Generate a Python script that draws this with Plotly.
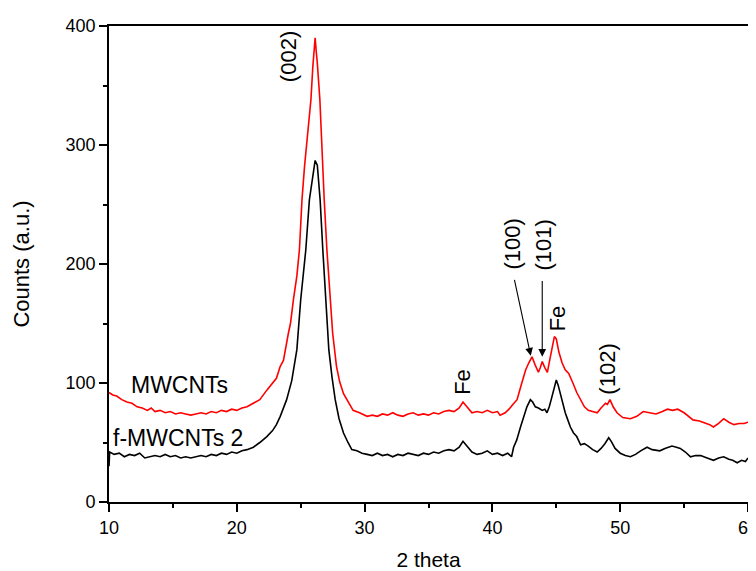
import plotly.graph_objects as go

# MWCNTs (red)
x_mw = [10.0, 10.3, 10.6, 11.0, 11.4, 11.8, 12.2, 12.6, 13.0, 13.3, 13.6, 14.0, 14.4, 14.8, 15.2, 15.6,
        16.0, 16.4, 16.8, 17.2, 17.6, 18.0, 18.4, 18.8, 19.2, 19.6, 20.0, 20.4, 20.8, 21.3, 21.8, 22.35,
        22.8, 23.1, 23.4, 23.65, 24.04, 24.2, 24.43, 24.7, 24.9, 25.1, 25.3, 25.5, 25.8, 25.95, 26.13,
        26.22, 26.3, 26.5, 26.65, 26.84, 27.05, 27.2, 27.36, 27.5, 27.8, 28.05, 28.35, 28.7, 29.1, 29.6,
        30.2, 30.6, 31.0, 31.4, 31.8, 32.2, 32.6, 33.0, 33.4, 33.8, 34.2, 34.6, 35.0, 35.4, 35.8, 36.2,
        36.6, 37.0, 37.4, 37.7, 38.0, 38.4, 38.8, 39.2, 39.6, 40.0, 40.4, 40.6, 41.0, 41.3, 41.6, 41.93,
        42.3, 42.6, 42.85, 43.1, 43.35, 43.6, 43.75, 43.9, 44.1, 44.3, 44.5, 44.7, 44.85, 45.0, 45.2,
        45.45, 45.7, 45.97, 46.15, 46.3, 46.6, 46.9, 47.2, 47.5, 47.85, 48.2, 48.5, 48.85, 49.0, 49.2,
        49.45, 49.75, 50.2, 50.8, 51.3, 51.8, 52.3, 52.8, 53.3, 53.7, 54.1, 54.5, 55.0, 55.4, 55.7, 56.2,
        56.7, 57.0, 57.3, 57.7, 58.1, 58.5, 58.9, 59.3, 59.7, 60.0]
y_mw = [92, 90, 89, 86, 84, 83, 80, 79, 77, 79, 76, 77, 75, 76, 74, 75,
        74, 73, 74, 75, 74, 76, 75, 77, 76, 78, 77, 79, 80, 83, 86, 94,
        100, 104, 114, 119, 142, 150, 170, 190, 212, 254, 282, 304, 338, 366, 390,
        378, 369, 338, 296, 254, 212, 190, 170, 142, 114, 101, 91, 84, 77, 75,
        72, 73, 72, 74, 73, 75, 73, 72, 74, 75, 73, 74, 73, 75, 74, 76,
        77, 76, 79, 84, 80, 75, 76, 75, 77, 75, 76, 73, 75, 78, 82, 86,
        100, 111, 117, 122, 115, 109, 113, 118, 113, 109, 120, 132, 139, 137, 126,
        117, 111, 108, 104, 100, 92, 86, 80, 77, 76, 75, 79, 83, 82, 86,
        80, 75, 71, 70, 72, 76, 75, 74, 76, 78, 77, 78, 75, 72, 69, 68,
        66, 65, 63, 66, 70, 67, 65, 66, 66, 67]

# f-MWCNTs 2 (black)
x_f = [10.0, 10.05, 10.4, 10.8, 11.2, 11.6, 12.0, 12.4, 12.8, 13.2, 13.6, 14.0, 14.4, 14.8, 15.2, 15.6,
       16.0, 16.4, 16.8, 17.2, 17.6, 18.0, 18.4, 18.8, 19.2, 19.6, 20.0, 20.4, 20.8, 21.3, 21.8, 22.35,
       22.8, 23.1, 23.4, 23.9, 24.3, 24.7, 25.0, 25.4, 25.68, 25.9, 26.0, 26.13, 26.3, 26.52, 26.73,
       26.99, 27.2, 27.45, 27.7, 28.0, 28.35, 28.7, 29.0, 29.4, 29.8, 30.2, 30.6, 31.0, 31.4, 31.8,
       32.2, 32.6, 33.0, 33.4, 33.8, 34.2, 34.6, 35.0, 35.4, 35.8, 36.2, 36.6, 37.0, 37.4, 37.7, 38.0,
       38.4, 38.8, 39.2, 39.6, 40.0, 40.4, 40.8, 41.2, 41.5, 41.66, 41.9, 42.2, 42.45, 42.7, 42.97,
       43.15, 43.36, 43.6, 43.9, 44.1, 44.27, 44.45, 44.6, 44.8, 45.0, 45.15, 45.3, 45.5, 45.7, 45.9,
       46.1, 46.35, 46.6, 46.9, 47.2, 47.5, 47.85, 48.2, 48.5, 48.8, 49.1, 49.3, 49.6, 50.0, 50.4,
       50.8, 51.2, 51.6, 52.1, 52.5, 53.1, 53.5, 54.05, 54.4, 54.7, 55.1, 55.5, 55.9, 56.3, 56.8,
       57.3, 57.7, 58.1, 58.5, 58.8, 59.15, 59.5, 59.8, 60.0]
y_f = [30, 42, 40, 41, 38, 40, 39, 41, 37, 38, 39, 38, 40, 38, 39, 37,
       38, 37, 38, 39, 38, 40, 39, 41, 40, 42, 41, 43, 44, 46, 50, 55,
       60, 65, 72, 86, 102, 128, 170, 212, 254, 272, 280, 287, 283, 254, 212,
       170, 128, 105, 86, 70, 58, 50, 44, 43, 41, 40, 39, 41, 39, 40,
       38, 40, 39, 41, 40, 39, 41, 40, 42, 41, 43, 44, 43, 46, 51, 47,
       42, 40, 41, 43, 40, 41, 39, 41, 38, 46, 52, 63, 72, 80, 86,
       84, 80, 79, 77, 78, 75, 80, 86, 95, 102.5, 98, 91, 83, 75, 69,
       63, 58, 55, 48, 49, 47, 44, 42, 45, 49, 54, 51, 45, 41, 39,
       38, 40, 43, 46, 44, 43, 45, 47, 46, 45, 42, 38, 39, 39, 37,
       35, 37, 38, 36, 35, 33, 35, 34, 37]

x_ticks = [10, 20, 30, 40, 50, 60]
y_ticks = [0, 100, 200, 300, 400]

FONT = "Liberation Sans, Arial, sans-serif"

fig = go.Figure()
fig.add_trace(go.Scatter(x=x_f, y=y_f, mode="lines", name="f-MWCNTs 2",
                         line=dict(color="black", width=1.6)))
fig.add_trace(go.Scatter(x=x_mw, y=y_mw, mode="lines", name="MWCNTs",
                         line=dict(color="#ff0000", width=1.6)))

rot_font = dict(family=FONT, size=22, color="black")
hor_font = dict(family=FONT, size=23, color="black")
texts = [
    dict(x=24.1, y=374, text="(002)", textangle=-90),
    dict(x=37.7, y=101, text="Fe", textangle=-90),
    dict(x=41.6, y=217, text="(100)", textangle=-90),
    dict(x=44.0, y=216, text="(101)", textangle=-90),
    dict(x=45.1, y=154, text="Fe", textangle=-90),
    dict(x=49.04, y=112, text="(102)", textangle=-90),
    dict(x=15.55, y=98, text="MWCNTs", textangle=0),
    dict(x=15.4, y=54, text="f-MWCNTs 2", textangle=0),
]
for t in texts:
    fig.add_annotation(x=t["x"], y=t["y"], text=t["text"], textangle=t["textangle"],
                       showarrow=False, font=rot_font if t["textangle"] else hor_font,
                       xref="x", yref="y")

arrows = [
    dict(x0=41.7, y0=188, x1=43.0, y1=123),
    dict(x0=43.9, y0=187, x1=43.9, y1=122),
]
for a in arrows:
    fig.add_annotation(x=a["x1"], y=a["y1"], ax=a["x0"], ay=a["y0"], axref="x", ayref="y",
                       xref="x", yref="y", text="", showarrow=True, arrowhead=2,
                       arrowsize=1.4, arrowwidth=1.1, arrowcolor="black", standoff=0)

fig.update_layout(
    width=756, height=563,
    margin=dict(l=101, r=16, t=18, b=69, autoexpand=False),
    paper_bgcolor="white", plot_bgcolor="white",
    showlegend=False,
    font=dict(family=FONT, color="black"),
)
fig.update_xaxes(
    range=[10, 60], tickvals=x_ticks, ticktext=[str(v) for v in x_ticks],
    ticks="outside", ticklen=8, tickwidth=1.5, tickcolor="black",
    minor=dict(dtick=5, ticks="outside", ticklen=4, tickwidth=1.5, tickcolor="black"),
    showline=True, linecolor="black", linewidth=1.8, mirror=True,
    showgrid=False, zeroline=False, ticklabeloverflow="allow",
    tickfont=dict(family=FONT, size=18, color="black"),
    title=dict(text="2 theta", font=dict(family=FONT, size=21, color="black"), standoff=32),
)
fig.update_yaxes(
    range=[0, 400], tickvals=y_ticks, ticktext=[str(v) for v in y_ticks],
    ticks="outside", ticklen=8, tickwidth=1.5, tickcolor="black",
    minor=dict(dtick=50, ticks="outside", ticklen=4, tickwidth=1.5, tickcolor="black"),
    showline=True, linecolor="black", linewidth=1.8, mirror=True,
    showgrid=False, zeroline=False,
    tickfont=dict(family=FONT, size=18, color="black"),
    title=dict(text="Counts (a.u.)", font=dict(family=FONT, size=22, color="black"), standoff=30),
)

fig.write_html("out.html", post_script="document.body.style.overflow='hidden';")
